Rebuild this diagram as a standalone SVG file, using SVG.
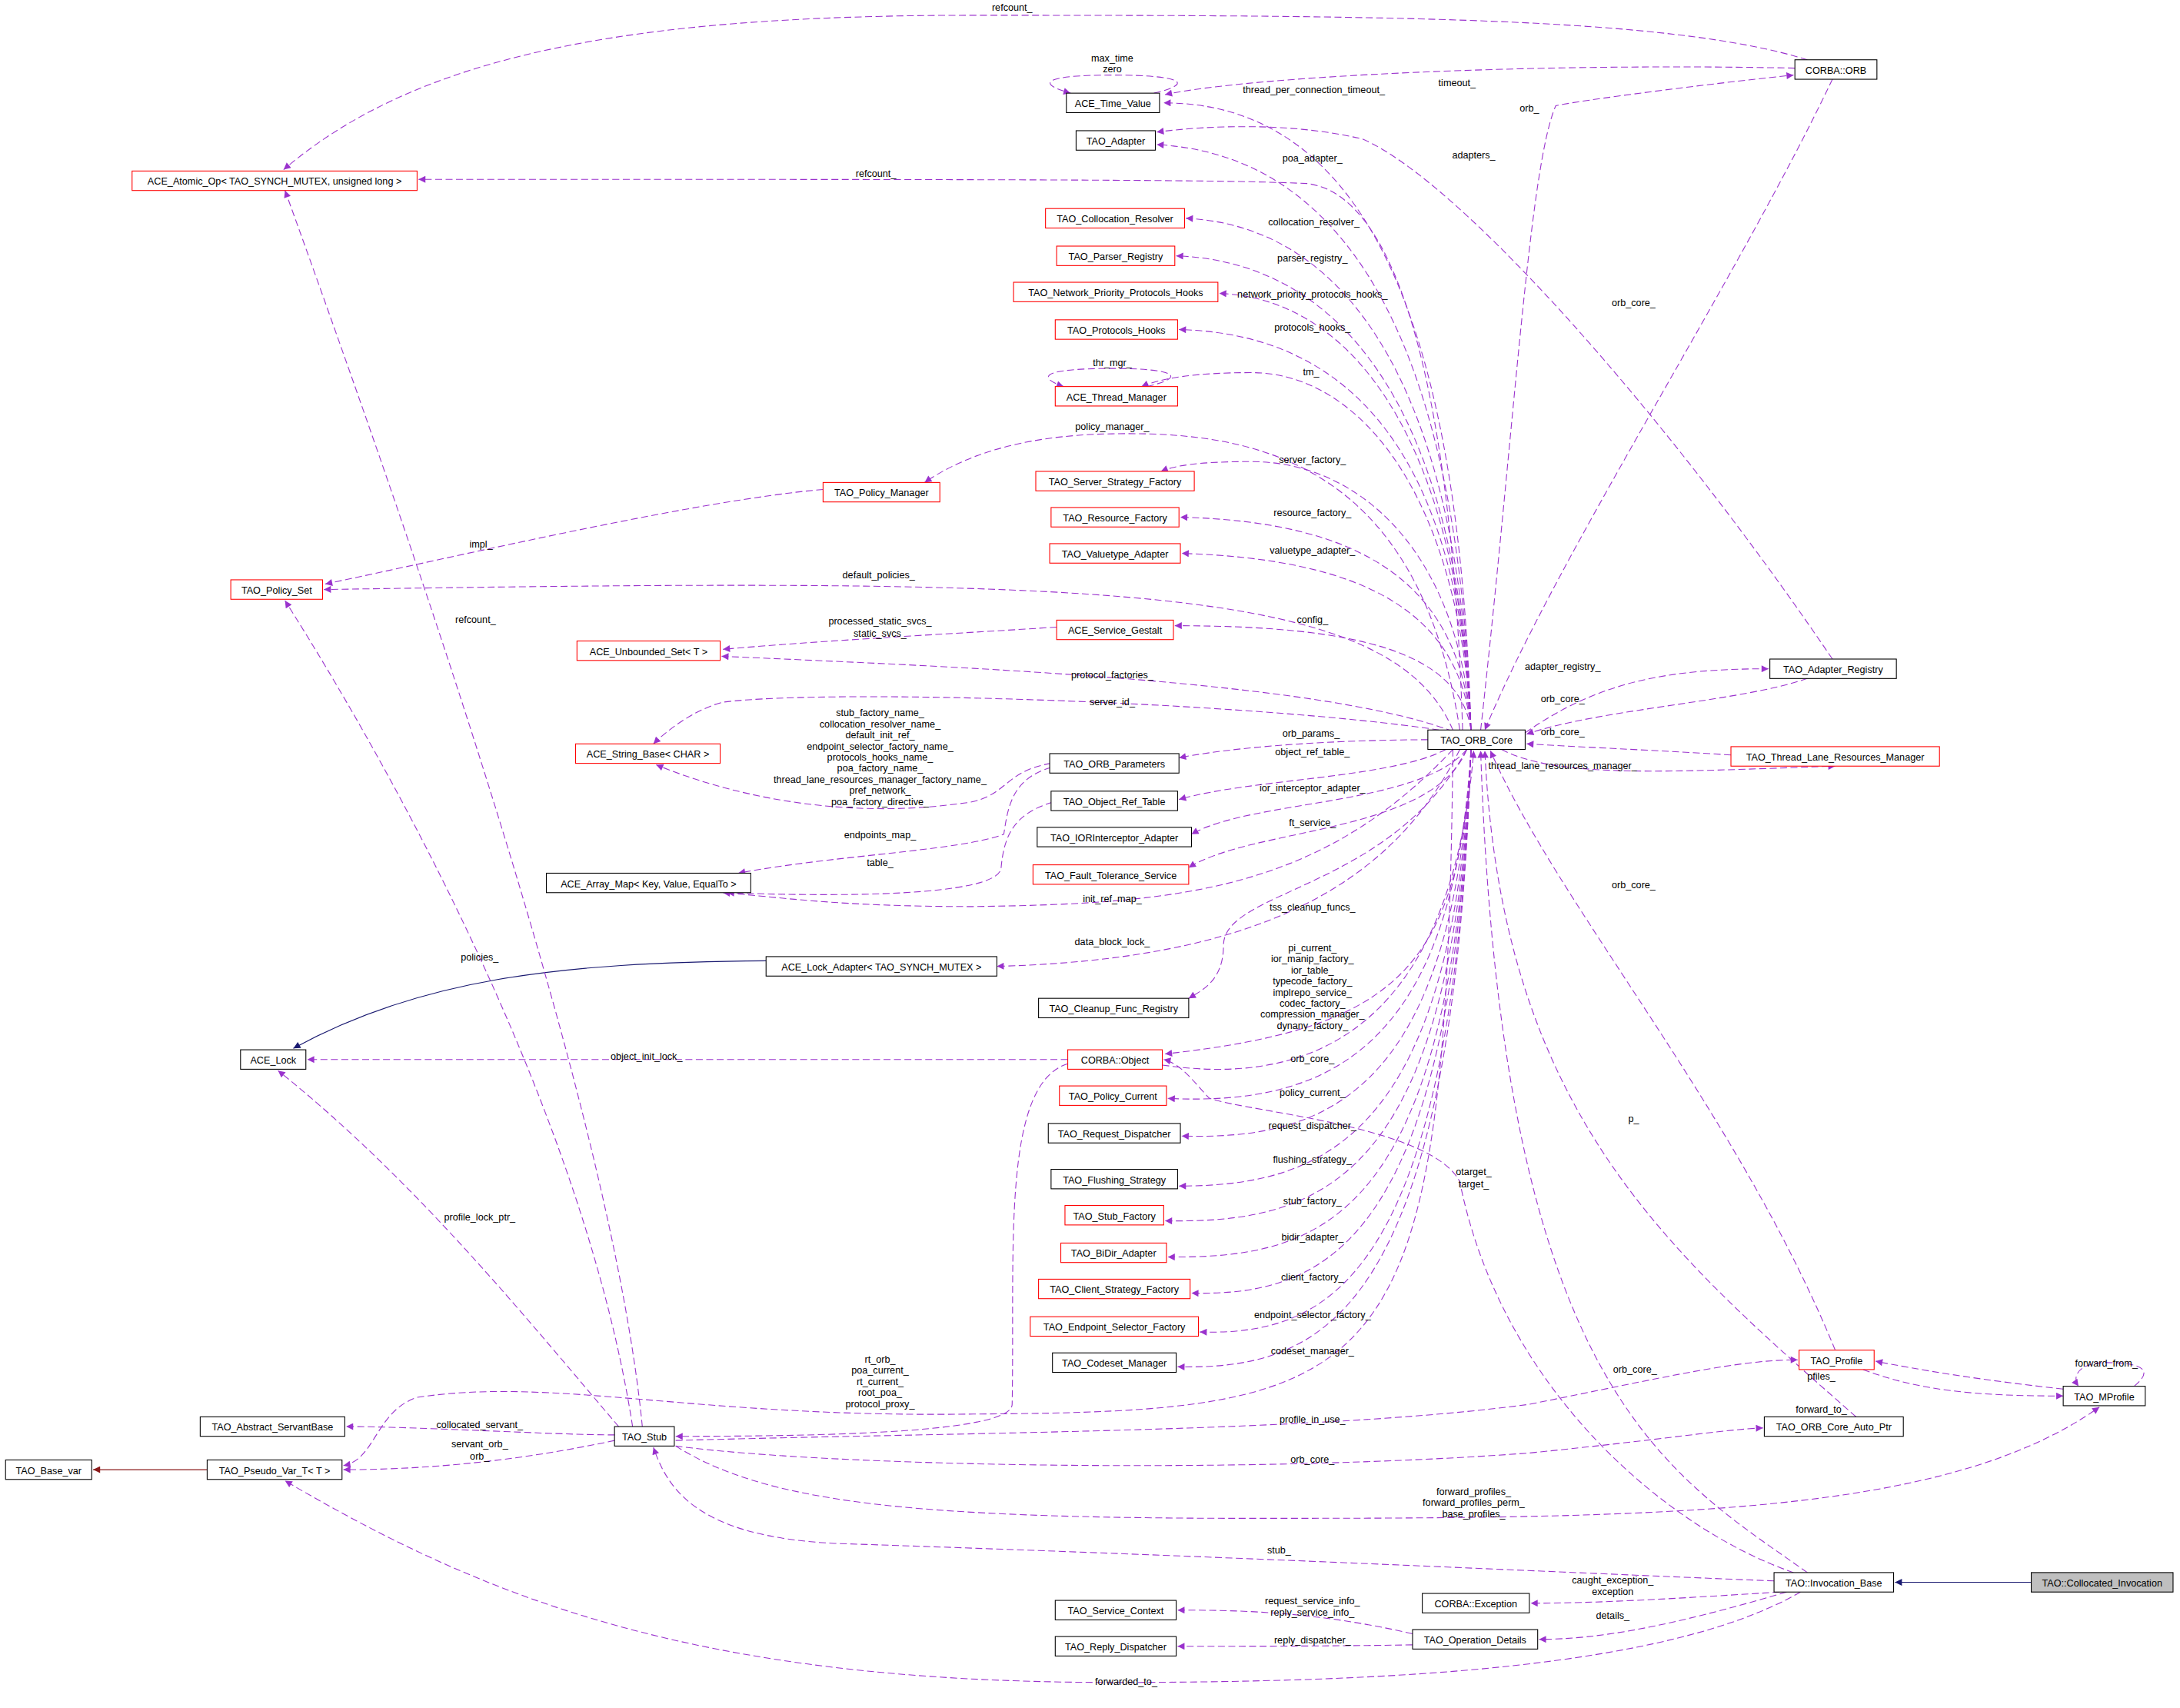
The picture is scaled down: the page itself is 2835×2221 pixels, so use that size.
<svg xmlns="http://www.w3.org/2000/svg" width="2835" height="2221" viewBox="0 0 2835 2221">
<style>
.n rect{fill:#fff;stroke:#000;stroke-width:0.6}
.r rect{stroke:#f00}
.g rect{fill:#bfbfbf}
text{font-family:"Liberation Sans",Arial,sans-serif;font-size:7px;fill:#000}
.n text{text-anchor:middle}
.l{text-anchor:middle}
.e path{fill:none;stroke:#9a32cd;stroke-width:0.6;stroke-dasharray:5,2.5;marker-end:url(#ap)}
.e path.inh{stroke:#191970;stroke-dasharray:none;marker-end:url(#an)}
.e path.red{stroke:#8b1a1a;stroke-dasharray:none;marker-end:url(#ar)}
</style>
<defs>
<marker id="ap" markerUnits="userSpaceOnUse" viewBox="0 0 10 10" refX="10" refY="5" markerWidth="6" markerHeight="5" orient="auto"><path d="M0,0L10,5L0,10z" fill="#9a32cd"/></marker>
<marker id="an" markerUnits="userSpaceOnUse" viewBox="0 0 10 10" refX="10" refY="5" markerWidth="6" markerHeight="5" orient="auto"><path d="M0,0L10,5L0,10z" fill="#191970"/></marker>
<marker id="ar" markerUnits="userSpaceOnUse" viewBox="0 0 10 10" refX="10" refY="5" markerWidth="6" markerHeight="5" orient="auto"><path d="M0,0L10,5L0,10z" fill="#8b1a1a"/></marker>
</defs>
<rect width="2835" height="2221" fill="#fff"/>
<g transform="scale(1.80804)">
<g id="edges" class="e">
<path d="M1300,43 C1200,12 1000,11 700,11 C450,11 300,40 204,122"/>
<path d="M1291,49 C1100,45 900,55 838,68"/>
<path d="M830,67 C860,60 850,54 800,54 C750,54 745,60 770,67"/>
<path d="M1058,525 C1050,250 990,74 837,74"/>
<path d="M1058,525 C1050,270 980,112 832,104"/>
<path d="M1318,474 C1200,300 1050,130 980,100 C930,88 870,90 832,95"/>
<path d="M1052,525 C1045,300 1010,140 940,132 C880,129 700,129 301,129"/>
<path d="M1058,525 C1050,300 980,163 853,157"/>
<path d="M1058,525 C1050,320 980,189 846,184"/>
<path d="M1058,525 C1050,330 980,215 877,211"/>
<path d="M1058,525 C1050,340 980,240 848,237"/>
<path d="M825,278 C855,271 845,265 800,265 C750,265 745,271 765,278"/>
<path d="M1058,525 C1050,360 980,268 900,268 C860,268 835,272 821,278"/>
<path d="M1050,525 C1020,330 900,310 800,312 C730,313 690,330 665,347"/>
<path d="M1058,525 C1050,400 980,332 900,332 C860,332 845,335 835,339"/>
<path d="M1058,525 C1050,420 980,375 849,372"/>
<path d="M1058,525 C1050,440 980,402 850,398"/>
<path d="M1045,525 C1000,420 800,415 233,424"/>
<path d="M592,352 C500,360 330,400 234,420"/>
<path d="M1058,525 C1050,470 980,450 845,450"/>
<path d="M760,451 C700,455 600,460 520,467"/>
<path d="M1045,526 C950,490 700,480 519,472"/>
<path d="M1035,525 C900,505 600,495 520,505 C500,510 480,525 470,535"/>
<path d="M1097,527 C1150,490 1200,481 1272,481"/>
<path d="M1300,488 C1250,505 1150,510 1098,528"/>
<path d="M1245,543 C1200,540 1150,538 1098,535"/>
<path d="M1080,539 C1120,560 1200,555 1320,551"/>
<path d="M1065,525 C1090,300 1100,120 1119,76 C1150,70 1250,58 1290,54"/>
<path d="M1318,57 C1250,200 1120,400 1068,525"/>
<path d="M1027,532 C980,532 900,535 848,545"/>
<path d="M756,549 C720,555 725,575 690,578 C600,590 520,570 472,550"/>
<path d="M756,552 C728,560 725,580 722,600 C690,612 600,615 531,628"/>
<path d="M1040,539 C1000,560 900,560 848,575"/>
<path d="M757,577 C730,585 722,600 720,625 C715,645 600,645 523,642"/>
<path d="M1055,539 C1020,580 900,575 857,600"/>
<path d="M1055,539 C1030,600 900,595 855,624"/>
<path d="M1045,539 C950,640 850,650 700,652 C600,652 560,645 520,642"/>
<path d="M1050,539 C1000,640 900,690 717,695"/>
<path d="M1055,539 C1000,640 880,640 880,680 C880,705 865,712 855,718"/>
<path class="inh" d="M551,691 C400,692 300,705 211,754"/>
<path d="M1058,539 C1050,700 1000,740 838,758"/>
<path d="M768,762 L221,762"/>
<path d="M836,766 C900,775 1040,780 1060,540"/>
<path d="M1058,539 C1045,760 950,795 840,790"/>
<path d="M1058,539 C1045,790 950,820 850,817"/>
<path d="M1058,539 C1045,820 950,853 848,853"/>
<path d="M1058,539 C1045,850 950,880 838,878"/>
<path d="M1058,539 C1045,880 950,905 840,904"/>
<path d="M1058,539 C1045,900 950,932 857,930"/>
<path d="M1058,539 C1045,930 950,960 863,958"/>
<path d="M1058,539 C1045,950 950,985 847,983"/>
<path d="M1045,539 C1040,1000 1000,1015 700,1017 C500,1020 400,990 300,1005 C270,1015 270,1050 247,1054"/>
<path d="M768,765 C720,780 730,900 728,1010 C728,1030 600,1033 486,1033"/>
<path d="M442,1032 C400,1032 300,1026 249,1026"/>
<path d="M442,1036 C400,1045 330,1057 247,1057"/>
<path class="red" d="M149,1057 L67,1057"/>
<path d="M462,1026 C440,800 300,400 205,137"/>
<path d="M455,1026 C420,800 280,550 205,432"/>
<path d="M445,1026 C380,950 300,850 200,770"/>
<path d="M486,1036 C700,1030 950,1030 1100,1010 C1200,990 1250,978 1293,978"/>
<path d="M486,1040 C600,1055 900,1060 1100,1045 C1200,1035 1240,1028 1268,1027"/>
<path d="M486,1040 C550,1080 650,1092 900,1092 C1200,1092 1400,1090 1510,1012"/>
<path d="M1276,1137 C1100,1130 900,1120 600,1110 C500,1105 480,1070 470,1041"/>
<path d="M1280,1145 C1200,1150 1150,1153 1101,1153"/>
<path d="M1285,1145 C1200,1170 1150,1179 1107,1179"/>
<path d="M1295,1145 C1200,1200 1000,1210 800,1210 C500,1210 350,1150 205,1065"/>
<path d="M1016,1175 C950,1160 900,1158 847,1158"/>
<path d="M1016,1183 C950,1184 900,1184 847,1184"/>
<path d="M1290,1131 C1200,1100 1080,1000 1050,850 C1030,810 900,800 870,790 C860,780 850,765 837,762"/>
<path d="M1300,1131 C1200,1060 1080,1000 1065,540"/>
<path d="M1335,1019 C1200,900 1080,800 1068,540"/>
<path d="M1320,971 C1250,800 1120,650 1072,540"/>
<path d="M1340,985 C1380,1000 1420,1004 1484,1004"/>
<path d="M1484,999 C1420,992 1380,985 1349,979"/>
<path d="M1535,997 C1550,985 1540,980 1515,980 C1495,980 1490,990 1495,997"/>
<path class="inh" d="M1461,1138 L1363,1138"/>
</g>
<g id="labels">
<text class="l" x="728" y="8">refcount_</text>
<text class="l" x="800" y="44">max_time</text>
<text class="l" x="800" y="52">zero</text>
<text class="l" x="1048" y="62">timeout_</text>
<text class="l" x="1100" y="80">orb_</text>
<text class="l" x="945" y="67">thread_per_connection_timeout_</text>
<text class="l" x="944" y="116">poa_adapter_</text>
<text class="l" x="1060" y="114">adapters_</text>
<text class="l" x="630" y="127">refcount_</text>
<text class="l" x="945" y="162">collocation_resolver_</text>
<text class="l" x="944" y="188">parser_registry_</text>
<text class="l" x="944" y="214">network_priority_protocols_hooks_</text>
<text class="l" x="944" y="238">protocols_hooks_</text>
<text class="l" x="1175" y="220">orb_core_</text>
<text class="l" x="800" y="263">thr_mgr_</text>
<text class="l" x="943" y="270">tm_</text>
<text class="l" x="800" y="309">policy_manager_</text>
<text class="l" x="944" y="333">server_factory_</text>
<text class="l" x="944" y="371">resource_factory_</text>
<text class="l" x="944" y="398">valuetype_adapter_</text>
<text class="l" x="346" y="394">impl_</text>
<text class="l" x="632" y="416">default_policies_</text>
<text class="l" x="342" y="448">refcount_</text>
<text class="l" x="944" y="448">config_</text>
<text class="l" x="633" y="449">processed_static_svcs_</text>
<text class="l" x="633" y="458">static_svcs_</text>
<text class="l" x="800" y="488">protocol_factories_</text>
<text class="l" x="1124" y="482">adapter_registry_</text>
<text class="l" x="1124" y="505">orb_core_</text>
<text class="l" x="800" y="507">server_id_</text>
<text class="l" x="633" y="515">stub_factory_name_</text>
<text class="l" x="633" y="523">collocation_resolver_name_</text>
<text class="l" x="633" y="531">default_init_ref_</text>
<text class="l" x="633" y="539">endpoint_selector_factory_name_</text>
<text class="l" x="633" y="547">protocols_hooks_name_</text>
<text class="l" x="633" y="555">poa_factory_name_</text>
<text class="l" x="633" y="563">thread_lane_resources_manager_factory_name_</text>
<text class="l" x="633" y="571">pref_network_</text>
<text class="l" x="633" y="579">poa_factory_directive_</text>
<text class="l" x="1124" y="529">orb_core_</text>
<text class="l" x="943" y="530">orb_params_</text>
<text class="l" x="944" y="543">object_ref_table_</text>
<text class="l" x="1124" y="553">thread_lane_resources_manager_</text>
<text class="l" x="944" y="569">ior_interceptor_adapter_</text>
<text class="l" x="944" y="594">ft_service_</text>
<text class="l" x="633" y="603">endpoints_map_</text>
<text class="l" x="633" y="623">table_</text>
<text class="l" x="1175" y="639">orb_core_</text>
<text class="l" x="800" y="649">init_ref_map_</text>
<text class="l" x="944" y="655">tss_cleanup_funcs_</text>
<text class="l" x="800" y="680">data_block_lock_</text>
<text class="l" x="944" y="684">pi_current_</text>
<text class="l" x="944" y="692">ior_manip_factory_</text>
<text class="l" x="944" y="700">ior_table_</text>
<text class="l" x="944" y="708">typecode_factory_</text>
<text class="l" x="944" y="716">implrepo_service_</text>
<text class="l" x="944" y="724">codec_factory_</text>
<text class="l" x="944" y="732">compression_manager_</text>
<text class="l" x="944" y="740">dynany_factory_</text>
<text class="l" x="345" y="691">policies_</text>
<text class="l" x="465" y="762">object_init_lock_</text>
<text class="l" x="944" y="764">orb_core_</text>
<text class="l" x="944" y="788">policy_current_</text>
<text class="l" x="1175" y="807">p_</text>
<text class="l" x="944" y="812">request_dispatcher_</text>
<text class="l" x="944" y="836">flushing_strategy_</text>
<text class="l" x="1060" y="845">otarget_</text>
<text class="l" x="1060" y="854">target_</text>
<text class="l" x="944" y="866">stub_factory_</text>
<text class="l" x="345" y="878">profile_lock_ptr_</text>
<text class="l" x="944" y="892">bidir_adapter_</text>
<text class="l" x="944" y="921">client_factory_</text>
<text class="l" x="944" y="948">endpoint_selector_factory_</text>
<text class="l" x="944" y="974">codeset_manager_</text>
<text class="l" x="633" y="980">rt_orb_</text>
<text class="l" x="633" y="988">poa_current_</text>
<text class="l" x="633" y="996">rt_current_</text>
<text class="l" x="633" y="1004">root_poa_</text>
<text class="l" x="633" y="1012">protocol_proxy_</text>
<text class="l" x="1176" y="987">orb_core_</text>
<text class="l" x="1310" y="992">pfiles_</text>
<text class="l" x="1515" y="983">forward_from_</text>
<text class="l" x="1310" y="1016">forward_to_</text>
<text class="l" x="944" y="1023">profile_in_use_</text>
<text class="l" x="345" y="1027">collocated_servant_</text>
<text class="l" x="345" y="1041">servant_orb_</text>
<text class="l" x="345" y="1050">orb_</text>
<text class="l" x="944" y="1052">orb_core_</text>
<text class="l" x="1060" y="1075">forward_profiles_</text>
<text class="l" x="1060" y="1083">forward_profiles_perm_</text>
<text class="l" x="1060" y="1091">base_profiles_</text>
<text class="l" x="920" y="1117">stub_</text>
<text class="l" x="1160" y="1139">caught_exception_</text>
<text class="l" x="1160" y="1147">exception</text>
<text class="l" x="944" y="1154">request_service_info_</text>
<text class="l" x="944" y="1162">reply_service_info_</text>
<text class="l" x="1160" y="1164">details_</text>
<text class="l" x="944" y="1182">reply_dispatcher_</text>
<text class="l" x="810" y="1212">forwarded_to_</text>
</g>
<g id="n_atomic" class="n r"><rect x="95" y="123" width="205" height="14"/><text x="197.5" y="133">ACE_Atomic_Op&lt; TAO_SYNCH_MUTEX, unsigned long &gt;</text></g>
<g id="n_timevalue" class="n"><rect x="767" y="67" width="67" height="14"/><text x="800.5" y="77">ACE_Time_Value</text></g>
<g id="n_adapter" class="n"><rect x="774" y="94" width="57" height="14"/><text x="802.5" y="104">TAO_Adapter</text></g>
<g id="n_collres" class="n r"><rect x="752" y="150" width="100" height="14"/><text x="802" y="160">TAO_Collocation_Resolver</text></g>
<g id="n_parser" class="n r"><rect x="760" y="177" width="85" height="14"/><text x="802.5" y="187">TAO_Parser_Registry</text></g>
<g id="n_nph" class="n r"><rect x="729" y="203" width="147" height="14"/><text x="802.5" y="213">TAO_Network_Priority_Protocols_Hooks</text></g>
<g id="n_ph" class="n r"><rect x="759" y="230" width="88" height="14"/><text x="803" y="240">TAO_Protocols_Hooks</text></g>
<g id="n_thrmgr" class="n r"><rect x="759" y="278" width="88" height="14"/><text x="803" y="288">ACE_Thread_Manager</text></g>
<g id="n_polmgr" class="n r"><rect x="592" y="347" width="84" height="14"/><text x="634" y="357">TAO_Policy_Manager</text></g>
<g id="n_ssf" class="n r"><rect x="745" y="339" width="114" height="14"/><text x="802" y="349">TAO_Server_Strategy_Factory</text></g>
<g id="n_rf" class="n r"><rect x="756" y="365" width="92" height="14"/><text x="802" y="375">TAO_Resource_Factory</text></g>
<g id="n_vta" class="n r"><rect x="755" y="391" width="94" height="14"/><text x="802" y="401">TAO_Valuetype_Adapter</text></g>
<g id="n_polset" class="n r"><rect x="166" y="417" width="66" height="14"/><text x="199" y="427">TAO_Policy_Set</text></g>
<g id="n_gestalt" class="n r"><rect x="760" y="446" width="84" height="14"/><text x="802" y="456">ACE_Service_Gestalt</text></g>
<g id="n_unbset" class="n r"><rect x="415" y="461" width="103" height="14"/><text x="466.5" y="471">ACE_Unbounded_Set&lt; T &gt;</text></g>
<g id="n_orb" class="n"><rect x="1291" y="43" width="59" height="14"/><text x="1320.5" y="53">CORBA::ORB</text></g>
<g id="n_adreg" class="n"><rect x="1273" y="474" width="91" height="14"/><text x="1318.5" y="484">TAO_Adapter_Registry</text></g>
<g id="n_orbcore" class="n"><rect x="1027" y="525" width="70" height="14"/><text x="1062" y="535">TAO_ORB_Core</text></g>
<g id="n_tlrm" class="n r"><rect x="1245" y="537" width="150" height="14"/><text x="1320" y="547">TAO_Thread_Lane_Resources_Manager</text></g>
<g id="n_strbase" class="n r"><rect x="414" y="535" width="104" height="14"/><text x="466" y="545">ACE_String_Base&lt; CHAR &gt;</text></g>
<g id="n_orbparams" class="n"><rect x="755" y="542" width="93" height="14"/><text x="801.5" y="552">TAO_ORB_Parameters</text></g>
<g id="n_ort" class="n"><rect x="756" y="569" width="91" height="14"/><text x="801.5" y="579">TAO_Object_Ref_Table</text></g>
<g id="n_iora" class="n"><rect x="746" y="595" width="111" height="14"/><text x="801.5" y="605">TAO_IORInterceptor_Adapter</text></g>
<g id="n_fts" class="n r"><rect x="743" y="622" width="112" height="14"/><text x="799" y="632">TAO_Fault_Tolerance_Service</text></g>
<g id="n_arrmap" class="n"><rect x="393" y="628" width="147" height="14"/><text x="466.5" y="638">ACE_Array_Map&lt; Key, Value, EqualTo &gt;</text></g>
<g id="n_lockad" class="n"><rect x="551" y="688" width="166" height="14"/><text x="634" y="698">ACE_Lock_Adapter&lt; TAO_SYNCH_MUTEX &gt;</text></g>
<g id="n_cfr" class="n"><rect x="747" y="718" width="108" height="14"/><text x="801" y="728">TAO_Cleanup_Func_Registry</text></g>
<g id="n_lock" class="n"><rect x="173" y="755" width="47" height="14"/><text x="196.5" y="765">ACE_Lock</text></g>
<g id="n_obj" class="n r"><rect x="768" y="755" width="68" height="14"/><text x="802" y="765">CORBA::Object</text></g>
<g id="n_polcur" class="n r"><rect x="762" y="781" width="77" height="14"/><text x="800.5" y="791">TAO_Policy_Current</text></g>
<g id="n_reqd" class="n"><rect x="754" y="808" width="95" height="14"/><text x="801.5" y="818">TAO_Request_Dispatcher</text></g>
<g id="n_flush" class="n"><rect x="756" y="841" width="91" height="14"/><text x="801.5" y="851">TAO_Flushing_Strategy</text></g>
<g id="n_stubf" class="n r"><rect x="766" y="867" width="71" height="14"/><text x="801.5" y="877">TAO_Stub_Factory</text></g>
<g id="n_bidir" class="n r"><rect x="763" y="894" width="76" height="14"/><text x="801" y="904">TAO_BiDir_Adapter</text></g>
<g id="n_csf" class="n r"><rect x="747" y="920" width="109" height="14"/><text x="801.5" y="930">TAO_Client_Strategy_Factory</text></g>
<g id="n_esf" class="n r"><rect x="741" y="947" width="121" height="14"/><text x="801.5" y="957">TAO_Endpoint_Selector_Factory</text></g>
<g id="n_csm" class="n"><rect x="757" y="973" width="89" height="14"/><text x="801.5" y="983">TAO_Codeset_Manager</text></g>
<g id="n_profile" class="n r"><rect x="1294" y="971" width="54" height="14"/><text x="1321" y="981">TAO_Profile</text></g>
<g id="n_mprofile" class="n"><rect x="1484" y="997" width="59" height="14"/><text x="1513.5" y="1007">TAO_MProfile</text></g>
<g id="n_asb" class="n"><rect x="144" y="1019" width="104" height="14"/><text x="196" y="1029">TAO_Abstract_ServantBase</text></g>
<g id="n_stub" class="n"><rect x="442" y="1026" width="43" height="14"/><text x="463.5" y="1036">TAO_Stub</text></g>
<g id="n_ocap" class="n"><rect x="1269" y="1019" width="100" height="14"/><text x="1319" y="1029">TAO_ORB_Core_Auto_Ptr</text></g>
<g id="n_basevar" class="n"><rect x="4" y="1050" width="62" height="14"/><text x="35" y="1060">TAO_Base_var</text></g>
<g id="n_pseudo" class="n"><rect x="149" y="1050" width="97" height="14"/><text x="197.5" y="1060">TAO_Pseudo_Var_T&lt; T &gt;</text></g>
<g id="n_ib" class="n"><rect x="1276" y="1131" width="86" height="14"/><text x="1319" y="1141">TAO::Invocation_Base</text></g>
<g id="n_ci" class="n g"><rect x="1461" y="1131" width="102" height="14"/><text x="1512" y="1141">TAO::Collocated_Invocation</text></g>
<g id="n_exc" class="n"><rect x="1023" y="1146" width="77" height="14"/><text x="1061.5" y="1156">CORBA::Exception</text></g>
<g id="n_sc" class="n"><rect x="759" y="1151" width="87" height="14"/><text x="802.5" y="1161">TAO_Service_Context</text></g>
<g id="n_od" class="n"><rect x="1016" y="1172" width="90" height="14"/><text x="1061" y="1182">TAO_Operation_Details</text></g>
<g id="n_rd" class="n"><rect x="759" y="1177" width="87" height="14"/><text x="802.5" y="1187">TAO_Reply_Dispatcher</text></g>
</g>
</svg>
